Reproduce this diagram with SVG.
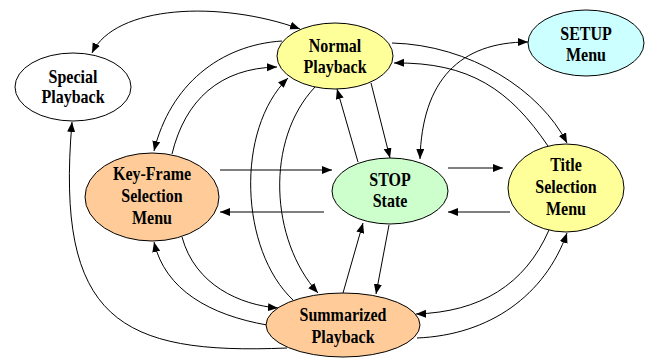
<svg xmlns="http://www.w3.org/2000/svg" width="653" height="358" viewBox="0 0 653 358">
<style>
.n{stroke:#000;stroke-width:1}
.t{font-family:"Liberation Serif",serif;font-weight:bold;font-size:16px;text-anchor:middle;fill:#000}
.e{fill:none;stroke:#000;stroke-width:1;marker-end:url(#ah)}
.b{marker-start:url(#ahs)}
</style>
<defs>
<marker id="ah" markerUnits="userSpaceOnUse" markerWidth="11" markerHeight="9" refX="10" refY="4" orient="auto"><path d="M0,0 L10,4 L0,8 z" fill="#000"/></marker>
<marker id="ahs" markerUnits="userSpaceOnUse" markerWidth="11" markerHeight="9" refX="10" refY="4" orient="auto-start-reverse"><path d="M0,0 L10,4 L0,8 z" fill="#000"/></marker>
</defs>
<rect width="653" height="358" fill="#fff"/>
<g id="connectors">
<path class="e b" d="M92,53 C115,5 220,0 300,29"/>
<path class="e" d="M287,348 C120,355 55,320 72,122"/>
<path class="e" d="M282,41 C220,45 170,85 154,151"/>
<path class="e" d="M172,154 C185,100 220,68 277,67"/>
<path class="e" d="M220,170 L332,170"/>
<path class="e" d="M324,212 L220,212"/>
<path class="e" d="M448,168 L503,168"/>
<path class="e" d="M510,212 L448,212"/>
<path class="e" d="M371,83 L390,158"/>
<path class="e" d="M358,162 L337,89"/>
<path class="e" d="M392,43 C470,45 540,90 567,143"/>
<path class="e" d="M548,146 C510,90 470,62 394,63"/>
<path class="e b" d="M420,159 C422,80 460,42 528,42"/>
<path class="e" d="M293,300 C240,250 235,130 288,78"/>
<path class="e" d="M315,87 C265,140 270,240 318,293"/>
<path class="e" d="M389,225 L376,294"/>
<path class="e" d="M343,293 L363,223"/>
<path class="e" d="M182,237 C195,285 240,305 278,308"/>
<path class="e" d="M267,325 C210,315 165,290 154,242"/>
<path class="e" d="M549,230 C525,285 480,312 416,314"/>
<path class="e" d="M417,338 C490,335 545,295 567,233"/>
</g>
<g id="normal">
<ellipse class="n" cx="335" cy="56" rx="58" ry="33" fill="#ffff99"/>
<text class="t" transform="translate(335,52) scale(1,1.2)">Normal</text>
<text class="t" transform="translate(335,73) scale(1,1.2)">Playback</text>
</g>
<g id="special">
<ellipse class="n" cx="73" cy="87" rx="58" ry="34" fill="#fff"/>
<text class="t" transform="translate(73,83) scale(1,1.2)">Special</text>
<text class="t" transform="translate(73,103) scale(1,1.2)">Playback</text>
</g>
<g id="setup">
<ellipse class="n" cx="586" cy="43" rx="58" ry="33" fill="#ccffff"/>
<text class="t" transform="translate(586,40) scale(1,1.2)">SETUP</text>
<text class="t" transform="translate(586,61) scale(1,1.2)">Menu</text>
</g>
<g id="keyframe">
<ellipse class="n" cx="152" cy="197" rx="67" ry="44" fill="#ffcc99"/>
<text class="t" transform="translate(152,180) scale(1,1.2)">Key-Frame</text>
<text class="t" transform="translate(152,202) scale(1,1.2)">Selection</text>
<text class="t" transform="translate(152,224) scale(1,1.2)">Menu</text>
</g>
<g id="stop">
<ellipse class="n" cx="390" cy="191" rx="58" ry="33" fill="#ccffcc"/>
<text class="t" transform="translate(390,186) scale(1,1.2)">STOP</text>
<text class="t" transform="translate(390,207) scale(1,1.2)">State</text>
</g>
<g id="title">
<ellipse class="n" cx="566" cy="188" rx="58" ry="44" fill="#ffff99"/>
<text class="t" transform="translate(566,171) scale(1,1.2)">Title</text>
<text class="t" transform="translate(566,193) scale(1,1.2)">Selection</text>
<text class="t" transform="translate(566,215) scale(1,1.2)">Menu</text>
</g>
<g id="summarized">
<ellipse class="n" cx="343" cy="325" rx="77" ry="32" fill="#ffcc99"/>
<text class="t" transform="translate(343,321) scale(1,1.2)">Summarized</text>
<text class="t" transform="translate(343,343) scale(1,1.2)">Playback</text>
</g>
</svg>
